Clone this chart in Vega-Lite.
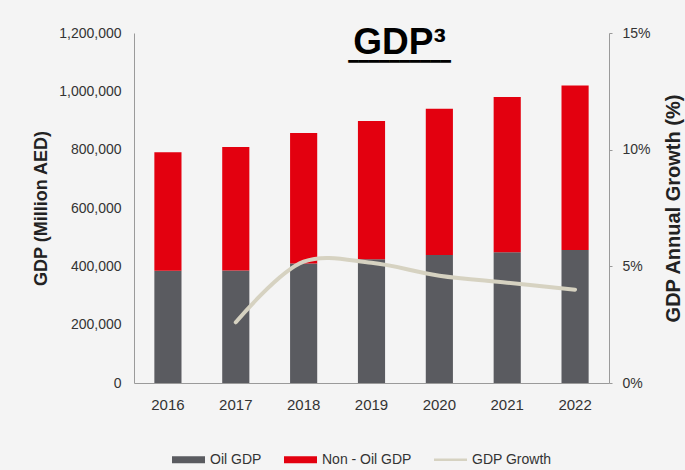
{
  "$schema": "https://vega.github.io/schema/vega-lite/v6.json",
  "autosize": "none",
  "width": 475,
  "height": 350,
  "padding": {"left": 134, "top": 33, "right": 76, "bottom": 87},
  "background": "#f4f4f4",
  "title": {
    "text": "GDP³",
    "subtitle": "━━━━━━━━━━",
    "font": "Liberation Sans",
    "fontSize": 37,
    "fontWeight": "bold",
    "color": "#000000",
    "subtitleFont": "DejaVu Sans",
    "subtitleFontSize": 17,
    "subtitleColor": "#000000",
    "subtitlePadding": -8,
    "anchor": "middle",
    "dx": 28,
    "offset": -45
  },
  "datasets": {
    "bars": [
      {"year": "2016", "type": "Oil GDP", "value": 385000},
      {"year": "2016", "type": "Non - Oil GDP", "value": 406000},
      {"year": "2017", "type": "Oil GDP", "value": 386000},
      {"year": "2017", "type": "Non - Oil GDP", "value": 423000},
      {"year": "2018", "type": "Oil GDP", "value": 410000},
      {"year": "2018", "type": "Non - Oil GDP", "value": 447000},
      {"year": "2019", "type": "Oil GDP", "value": 424000},
      {"year": "2019", "type": "Non - Oil GDP", "value": 474000},
      {"year": "2020", "type": "Oil GDP", "value": 439000},
      {"year": "2020", "type": "Non - Oil GDP", "value": 501000},
      {"year": "2021", "type": "Oil GDP", "value": 448000},
      {"year": "2021", "type": "Non - Oil GDP", "value": 533000},
      {"year": "2022", "type": "Oil GDP", "value": 456000},
      {"year": "2022", "type": "Non - Oil GDP", "value": 564000}
    ],
    "growth": [
      {"year": "2017", "growth": 0.026},
      {"year": "2018", "growth": 0.052},
      {"year": "2019", "growth": 0.0515},
      {"year": "2020", "growth": 0.046},
      {"year": "2021", "growth": 0.043},
      {"year": "2022", "growth": 0.040}
    ]
  },
  "encoding": {
    "x": {
      "field": "year",
      "type": "ordinal",
      "scale": {"domain": ["2016","2017","2018","2019","2020","2021","2022"], "paddingInner": 0.6, "paddingOuter": 0.3},
      "axis": {
        "title": null,
        "labelAngle": 0,
        "labelFont": "Liberation Sans",
        "labelFontSize": 15,
        "labelColor": "#333333",
        "labelPadding": 14,
        "ticks": false,
        "domainColor": "#9a9a9a",
        "domainWidth": 1
      }
    }
  },
  "layer": [
    {
      "data": {"name": "bars"},
      "mark": {"type": "bar"},
      "encoding": {
        "y": {
          "field": "value",
          "type": "quantitative",
          "stack": "zero",
          "scale": {"domain": [0, 1200000], "nice": false},
          "axis": {
            "title": "GDP (Million AED)",
            "titleFont": "Liberation Sans",
            "titleFontSize": 18,
            "titleFontWeight": "bold",
            "titleColor": "#222222",
            "titlePadding": 8,
            "values": [0, 200000, 400000, 600000, 800000, 1000000, 1200000],
            "format": ",d",
            "labelFont": "Liberation Sans",
            "labelFontSize": 14,
            "labelColor": "#333333",
            "labelPadding": 13,
            "ticks": false,
            "grid": false,
            "domainColor": "#9a9a9a"
          }
        },
        "color": {
          "field": "type",
          "type": "nominal",
          "scale": {"domain": ["Oil GDP", "Non - Oil GDP", "GDP Growth"], "range": ["#5a5b60", "#e3000f", "#d6d2c1"]},
          "legend": {
            "title": null,
            "orient": "none",
            "direction": "horizontal",
            "legendX": 38,
            "legendY": 410,
            "symbolType": "M-1,-0.21H1V0.21H-1Z",
            "symbolSize": 1089,
            "symbolStrokeWidth": 0,
            "labelFont": "Liberation Sans",
            "labelFontSize": 14,
            "labelColor": "#333333",
            "labelOffset": 5,
            "columnPadding": 22,
            "encode": {
              "symbols": {
                "update": {
                  "fill": {"scale": "color", "field": "value"},
                  "strokeWidth": {"value": 0},
                  "shape": {"signal": "datum.value === 'GDP Growth' ? 'M-1,-0.08H1V0.08H-1Z' : 'M-1,-0.21H1V0.21H-1Z'"}
                }
              }
            }
          }
        },
        "order": {"field": "type", "sort": "descending"}
      }
    },
    {
      "data": {"name": "growth"},
      "mark": {"type": "line", "interpolate": "catmull-rom", "strokeWidth": 4, "strokeCap": "round"},
      "encoding": {
        "y": {
          "field": "growth",
          "type": "quantitative",
          "scale": {"domain": [0, 0.15], "nice": false},
          "axis": {
            "orient": "right",
            "title": "GDP Annual Growth (%)",
            "titleFont": "Liberation Sans",
            "titleFontSize": 20,
            "titleFontWeight": "bold",
            "titleColor": "#222222",
            "titleAngle": 270,
            "titlePadding": 33,
            "values": [0, 0.05, 0.1, 0.15],
            "format": ".0%",
            "labelFont": "Liberation Sans",
            "labelFontSize": 14,
            "labelColor": "#333333",
            "labelPadding": 10,
            "tickSize": 3,
            "tickColor": "#9a9a9a",
            "grid": false,
            "domainColor": "#9a9a9a"
          }
        },
        "color": {"datum": "GDP Growth"}
      }
    }
  ],
  "resolve": {"scale": {"y": "independent"}},
  "config": {"view": {"stroke": null}}
}
